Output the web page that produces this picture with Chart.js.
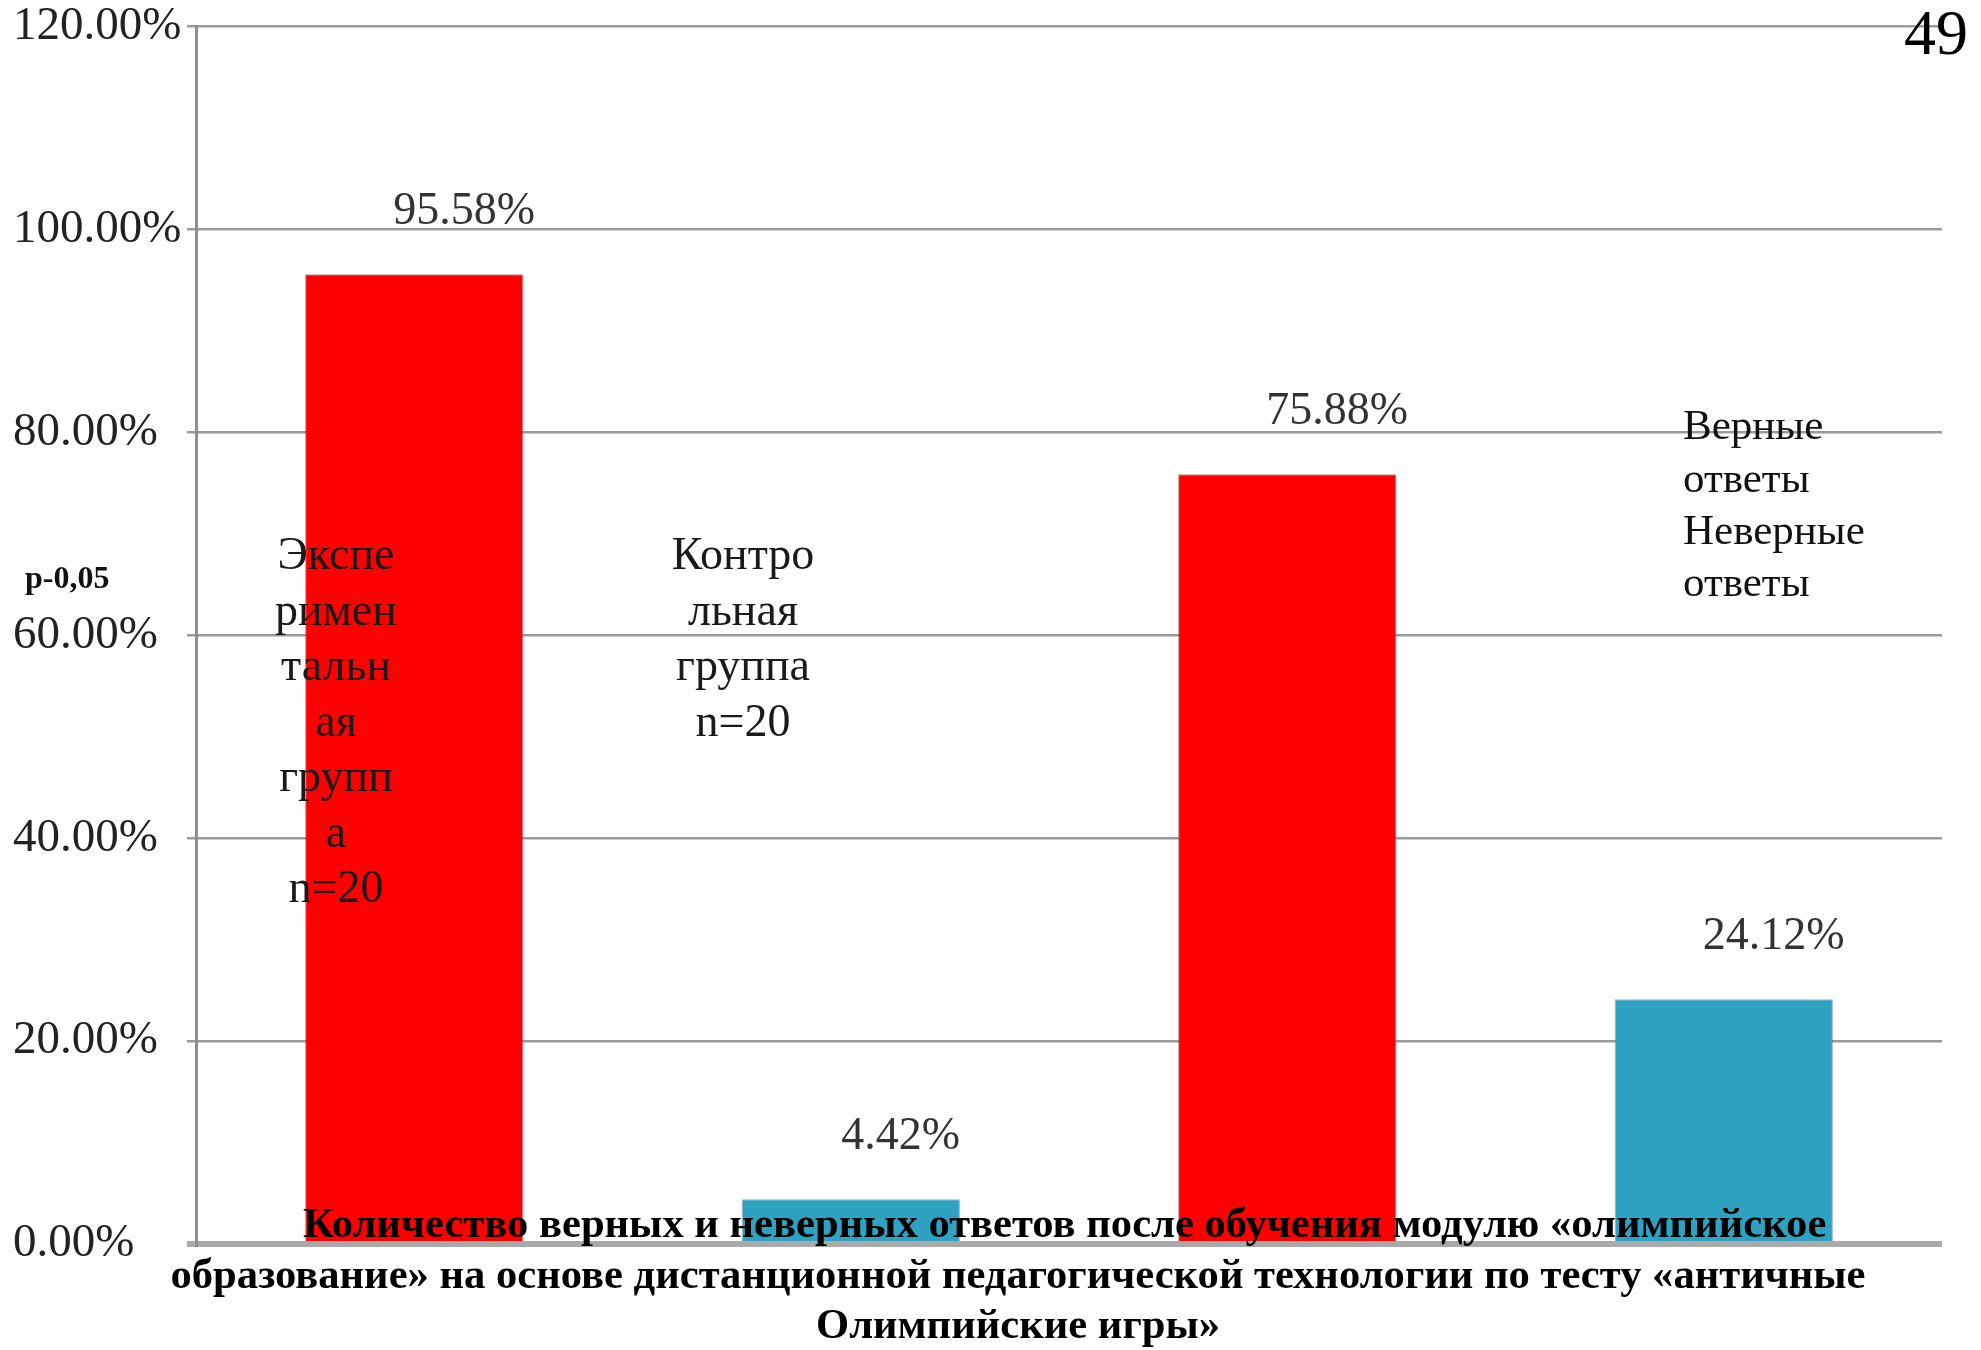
<!DOCTYPE html>
<html>
<head>
<meta charset="utf-8">
<script src="https://cdn.jsdelivr.net/npm/chart.js@4.4.0/dist/chart.umd.min.js"></script>
<style>
    html, body { margin: 0; padding: 0; background: #fff; }
    #chart { display: block; }
</style>
</head>
<body>
<canvas id="chart" width="1981" height="1350"></canvas>
<script>
// данные диаграммы
const groups = [
    ["Экспе", "римен", "тальн", "ая", "групп", "а", "n=20"],
    ["Контро", "льная", "группа", "n=20"]
];
const seriesNames = [["Верные", "ответы"], ["Неверные", "ответы"]];
const correctAnswers = [95.58, 75.88];
const wrongAnswers = [4.42, 24.12];
const yTicks = [0, 20, 40, 60, 80, 100, 120];
const titleLines = [
    "Количество верных и неверных ответов после обучения модулю «олимпийское",
    "образование» на основе дистанционной педагогической технологии по тесту «античные",
    "Олимпийские игры»"
];
const pageNumber = "49";
const pNote = "p-0,05";

const SERIF = "'Liberation Serif', 'DejaVu Serif', serif";

// подписи, легенда, заголовок поверх диаграммы
const overlayPlugin = {
    id: "overlay",
    afterDatasetsDraw(chart) {
        const ctx = chart.ctx;
        const area = chart.chartArea;
        ctx.save();

        // подписи значений
        ctx.font = `46px ${SERIF}`;
        ctx.fillStyle = "#333";
        ctx.textAlign = "center";
        ctx.textBaseline = "middle";
        chart.data.datasets.forEach((ds, i) => {
            chart.getDatasetMeta(i).data.forEach((bar, j) => {
                ctx.fillText(ds.data[j].toFixed(2) + "%", bar.x + 50, bar.y - 62);
            });
        });

        // названия групп (съехали в область графика)
        ctx.fillStyle = "#1a1a1a";
        const groupX = [area.left + 140, area.left + 547];
        groups.forEach((lines, g) => {
            lines.forEach((line, k) => {
                ctx.fillText(line, groupX[g], 557 + k * 55.5);
            });
        });

        // легенда без маркеров
        ctx.font = `43px ${SERIF}`;
        ctx.textAlign = "left";
        ctx.fillStyle = "#111";
        let row = 0;
        seriesNames.forEach(lines => {
            lines.forEach(line => {
                ctx.fillText(line, 1683, 428 + row * 52.3);
                row++;
            });
        });

        // p-0,05
        ctx.font = `bold 32px ${SERIF}`;
        ctx.fillText(pNote, 25, 580);

        // номер страницы
        ctx.font = `64px ${SERIF}`;
        ctx.fillStyle = "#000";
        ctx.textAlign = "right";
        ctx.fillText(pageNumber, 1968, 37);

        // заголовок
        ctx.font = `bold 40px ${SERIF}`;
        const w = ctx.measureText(titleLines[1]).width;
        const size = 40 * 1695 / w;
        ctx.font = `bold ${size}px ${SERIF}`;
        ctx.fillStyle = "#000";
        ctx.textAlign = "left";
        ctx.fillText(titleLines[0], 303, 1226);
        ctx.textAlign = "center";
        ctx.fillText(titleLines[1], 1018, 1277);
        ctx.fillText(titleLines[2], 1018, 1327);

        ctx.restore();
    }
};

new Chart(document.getElementById("chart"), {
    type: "bar",
    data: {
        labels: groups.map(g => g.join("")),
        datasets: [
            {
                label: seriesNames[0].join(" "),
                data: correctAnswers,
                backgroundColor: "#ff0000",
                borderColor: "rgba(150,40,40,0.55)",
                borderWidth: 1
            },
            {
                label: seriesNames[1].join(" "),
                data: wrongAnswers,
                backgroundColor: "#2ea2c0",
                borderColor: "rgba(60,90,100,0.5)",
                borderWidth: 1
            }
        ]
    },
    options: {
        responsive: false,
        animation: false,
        layout: { padding: { left: 13, right: 39, top: 25, bottom: 106 } },
        plugins: {
            legend: { display: false },
            tooltip: { enabled: false }
        },
        datasets: {
            bar: { categoryPercentage: 1.0, barPercentage: 0.5 }
        },
        scales: {
            x: { display: false },
            y: {
                min: 0,
                max: 120,
                afterBuildTicks: (s) => { s.ticks = yTicks.map(v => ({ value: v })); },
                afterFit: (s) => { s.width = 183; },
                ticks: {
                    callback: (v) => v.toFixed(2) + "%",
                    font: { family: SERIF, size: 47, lineHeight: 1.0 },
                    color: "#222",
                    crossAlign: "far"
                },
                grid: {
                    color: (c) => c.tick && c.tick.value === 0 ? "#a9a9a9" : "#9a9a9a",
                    lineWidth: (c) => c.tick && c.tick.value === 0 ? 6 : 2.5,
                    tickLength: 9
                },
                border: { display: true, color: "#8e8e8e", width: 3 }
            }
        }
    },
    plugins: [overlayPlugin]
});
</script>
</body>
</html>
